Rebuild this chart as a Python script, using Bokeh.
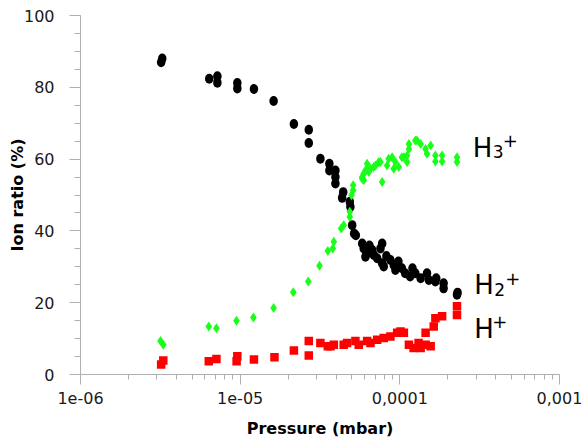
from bokeh.plotting import figure
from bokeh.models import (Label, SingleIntervalTicker, FixedTicker,
                          CustomJSTickFormatter)
from bokeh.embed import file_html
from bokeh.resources import INLINE

# ---------------- data (pressure in mbar, ion ratio in %) ----------------
h2_p = [3.2e-6, 3.25e-6, 6.4e-6, 7.2e-6, 7.2e-6, 9.6e-6, 9.6e-6, 1.22e-5, 1.62e-5,
        2.17e-5, 2.69e-5, 2.69e-5, 3.18e-5, 3.62e-5, 3.62e-5, 3.95e-5, 3.95e-5,
        3.95e-5, 4.42e-5, 4.35e-5, 4.86e-5, 4.9e-5, 5.03e-5, 5.17e-5, 5.3e-5,
        5.81e-5, 5.94e-5, 6.24e-5, 6.09e-5, 6.71e-5, 6.87e-5, 7.75e-5, 7.56e-5,
        7.21e-5, 7.75e-5, 7.93e-5, 8.73e-5, 9.16e-5, 9.38e-5, 1.03e-4, 1.08e-4,
        1.16e-4, 1.25e-4, 1.35e-4, 1.48e-4, 1.52e-4, 1.67e-4, 1.88e-4, 1.88e-4,
        2.28e-4, 2.3e-4, 6.45e-5, 8.24e-5, 9.8e-5, 1.2e-4, 1.69e-4]
h2_v = [87.0, 88.0, 82.4, 83.1, 81.3, 81.2, 79.7, 79.5, 76.2,
        69.8, 68.2, 64.5, 60.1, 58.7, 56.8, 56.8, 55.0,
        53.2, 50.8, 49.2, 48.1, 46.7, 41.6, 39.3, 38.8,
        36.5, 35.1, 33.7, 32.8, 34.7, 33.3, 36.5, 35.1,
        32.4, 31.0, 30.1, 31.9, 30.5, 29.1, 29.6, 28.2,
        27.3, 28.2, 26.8, 28.2, 26.3, 25.9, 25.4, 24.0,
        22.2, 22.8, 35.9, 33.0, 31.5, 29.6, 26.8]

h3_p = [3.17e-6, 3.3e-6, 6.36e-6, 7.1e-6, 9.48e-6, 1.21e-5, 1.62e-5, 2.15e-5,
        2.67e-5, 3.14e-5, 3.54e-5, 3.8e-5, 3.86e-5, 4.29e-5, 4.45e-5, 4.86e-5,
        4.86e-5, 4.98e-5, 5.1e-5, 5.1e-5, 5.81e-5, 5.81e-5, 5.94e-5, 5.94e-5,
        6.09e-5, 6.24e-5, 6.39e-5, 6.55e-5, 6.87e-5, 7.04e-5, 7.38e-5, 7.56e-5,
        7.75e-5, 8.32e-5, 8.51e-5, 8.95e-5, 9.16e-5, 9.38e-5, 9.84e-5, 1.03e-4,
        1.06e-4, 1.11e-4, 1.11e-4, 1.14e-4, 1.14e-4, 1.25e-4, 1.28e-4, 1.35e-4,
        1.45e-4, 1.48e-4, 1.56e-4, 1.67e-4, 1.67e-4, 1.84e-4, 1.84e-4, 2.28e-4,
        2.28e-4]
h3_v = [9.3, 8.3, 13.4, 12.9, 15.0, 15.9, 18.5, 22.9,
        25.9, 30.3, 34.4, 35.1, 37.0, 40.7, 41.6, 43.9,
        45.3, 49.9, 51.3, 52.7, 54.5, 55.0, 54.1, 55.9,
        56.8, 58.7, 56.4, 57.3, 57.8, 58.2, 59.2, 59.2,
        53.6, 58.2, 60.1, 60.5, 57.3, 59.2, 57.8, 60.5,
        60.5, 59.2, 61.0, 64.2, 62.8, 65.2, 65.2, 64.2,
        62.8, 61.5, 63.8, 61.0, 59.3, 61.0, 59.3, 60.5,
        59.2]

h1_p = [3.2e-6, 3.3e-6, 6.36e-6, 7.1e-6, 9.5e-6, 9.6e-6, 1.22e-5, 1.64e-5,
        2.17e-5, 2.69e-5, 2.69e-5, 3.18e-5, 3.54e-5, 3.68e-5, 3.86e-5, 4.45e-5,
        4.67e-5, 5.27e-5, 5.53e-5, 6.24e-5, 6.55e-5, 7.21e-5, 7.93e-5, 8.73e-5,
        9.62e-5, 1.01e-4, 1.06e-4, 1.14e-4, 1.22e-4, 1.31e-4, 1.35e-4, 1.45e-4,
        1.45e-4, 1.56e-4, 1.63e-4, 1.67e-4, 1.84e-4, 2.28e-4, 2.28e-4]
h1_v = [2.8, 3.9, 3.7, 4.3, 3.7, 5.1, 4.2, 4.8,
        6.7, 9.3, 5.3, 8.8, 7.9, 7.9, 8.3, 8.3,
        8.8, 9.3, 8.3, 9.3, 8.8, 9.7, 10.2, 10.6,
        11.6, 12.0, 11.6, 8.3, 7.4, 8.8, 7.4, 11.6,
        8.3, 7.9, 13.4, 15.7, 16.2, 19.0, 16.6]

x_tick_values = [1e-6, 1e-5, 1e-4, 1e-3]
x_tick_labels = ["1e-06", "1e-05", "0,0001", "0,001"]
x_label = "Pressure (mbar)"
y_label = "Ion ratio (%)"

FONT = "DejaVu Sans"
AXIS_GREY = "#b0b0b0"

p = figure(width=582, height=440, x_axis_type="log",
           x_range=(1e-6, 1e-3), y_range=(0, 100),
           output_backend="svg", toolbar_location=None,
           min_border_left=80, min_border_right=23,
           min_border_top=15, min_border_bottom=63)
p.xgrid.visible = False
p.ygrid.visible = False
p.outline_line_color = None
p.background_fill_color = "white"
p.border_fill_color = "white"

minor = [m * d for d in x_tick_values[:-1] for m in range(2, 10)]
p.xaxis.ticker = FixedTicker(ticks=x_tick_values, minor_ticks=minor)
p.xaxis.formatter = CustomJSTickFormatter(
    args=dict(vals=x_tick_values, labs=x_tick_labels),
    code="""
for (let i = 0; i < vals.length; i++) {
  if (Math.abs(Math.log10(tick) - Math.log10(vals[i])) < 1e-6) return labs[i];
}
return "";
""")
p.yaxis.ticker = SingleIntervalTicker(interval=20, num_minor_ticks=4)

for ax in (p.xaxis[0], p.yaxis[0]):
    ax.axis_line_color = AXIS_GREY
    ax.major_tick_line_color = AXIS_GREY
    ax.minor_tick_line_color = AXIS_GREY
    ax.major_tick_in = 0
    ax.minor_tick_in = 0
    ax.major_label_text_font = FONT
    ax.major_label_text_font_size = "16px"
    ax.major_label_text_color = "#1a1a1a"
    ax.axis_label_text_font = FONT
    ax.axis_label_text_font_size = "16px"
    ax.axis_label_text_font_style = "bold"
    ax.axis_label_text_color = "black"

p.xaxis.axis_label = x_label
p.yaxis.axis_label = y_label
p.xaxis.major_tick_out = 10
p.xaxis.minor_tick_out = 5
p.xaxis.major_label_standoff = 7
p.xaxis.axis_label_standoff = 12
p.yaxis.major_tick_out = 11
p.yaxis.minor_tick_out = 6
p.yaxis.major_label_standoff = 15
p.yaxis.axis_label_standoff = -6

p.ellipse(x=h2_p, y=h2_v, width=8.5, height=10, width_units="screen",
          height_units="screen", fill_color="black", line_color=None)
p.scatter(x=h3_p, y=h3_v, marker="diamond", size=10, fill_color="#1aff1a",
          line_color=None)
p.scatter(x=h1_p, y=h1_v, marker="square", size=8.5, fill_color="#ff0000",
          line_color=None)

# ion labels
def ion_label(x, y, sub, sup_offset):
    p.add_layout(Label(x=x, y=y, text="H", text_font=FONT, text_font_size="26px",
                       text_baseline="alphabetic", text_color="black"))
    if sub:
        p.add_layout(Label(x=x, y=y, text=sub, x_offset=20, y_offset=-4,
                           text_font=FONT, text_font_size="17px",
                           text_baseline="alphabetic", text_color="black"))
    p.add_layout(Label(x=x, y=y, text="+", x_offset=sup_offset, y_offset=7,
                       text_font=FONT, text_font_size="18px",
                       text_baseline="alphabetic", text_color="black"))

ion_label(2.86e-4, 63.2, "3", 30)
ion_label(2.92e-4, 24.9, "2", 31)
ion_label(2.92e-4, 12.8, "", 18)

open("out.html", "w").write(file_html(p, INLINE))
